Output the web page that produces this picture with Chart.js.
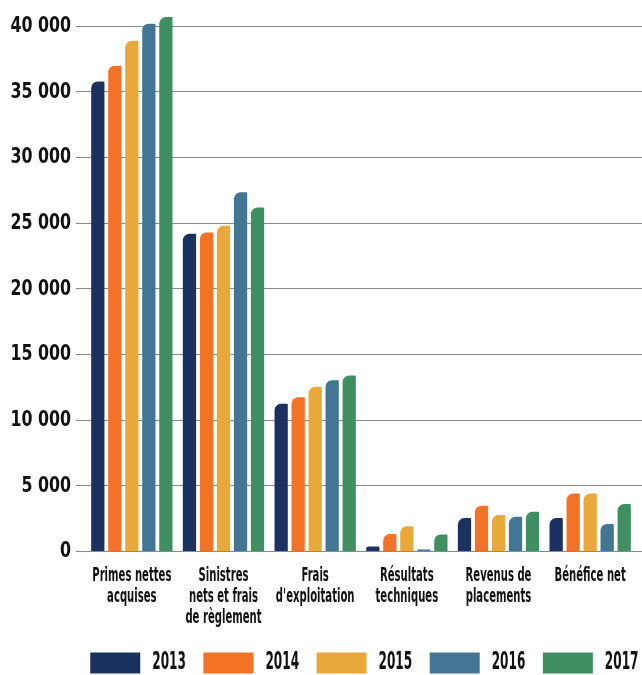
<!DOCTYPE html>
<html>
<head>
<meta charset="utf-8">
<script src="https://cdn.jsdelivr.net/npm/chart.js@4.4.1/dist/chart.umd.min.js"></script>
<style>
  html, body { margin: 0; padding: 0; background: #fff; }
  #wrap { width: 642px; height: 675px; }
</style>
</head>
<body>
<div id="wrap"><canvas id="chart" width="642" height="675"></canvas></div>
<script>
const categories = [
  ['Primes nettes', 'acquises'],
  ['Sinistres', 'nets et frais', 'de règlement'],
  ['Frais', "d'exploitation"],
  ['Résultats', 'techniques'],
  ['Revenus de', 'placements'],
  ['Bénéfice net']
];
const years = ['2013', '2014', '2015', '2016', '2017'];
const values2013 = [35800, 24200, 11250, 380, 2550, 2550];
const values2014 = [37000, 24300, 11750, 1330, 3480, 4420];
const values2015 = [38900, 24800, 12550, 1920, 2780, 4420];
const values2016 = [40200, 27350, 13050, 150, 2650, 2100];
const values2017 = [40700, 26200, 13400, 1300, 3030, 3610];
const yTicks = [0, 5000, 10000, 15000, 20000, 25000, 30000, 35000, 40000];

const colors = ['#1b3160', '#f47225', '#e8a83a', '#437594', '#3f8f62'];
const series = [values2013, values2014, values2015, values2016, values2017];

// the original uses a condensed face; none is installed, so squeeze text horizontally
const condensedFont = "'DejaVu Sans Condensed', sans-serif";
const axisFont = "'DejaVu Sans', sans-serif";
const squeeze = (font) => (font.indexOf('Condensed') >= 0 ? 0.56 : 0.72);

const proto = CanvasRenderingContext2D.prototype;
const origFillText = proto.fillText;
const origMeasureText = proto.measureText;
proto.fillText = function (text, x, y) {
  const k = squeeze(this.font);
  this.save();
  this.translate(x, y);
  this.scale(k, 1);
  origFillText.call(this, text, 0, 0);
  this.restore();
};
proto.measureText = function (text) {
  const m = origMeasureText.call(this, text);
  return {
    width: m.width * squeeze(this.font),
    actualBoundingBoxAscent: m.actualBoundingBoxAscent,
    actualBoundingBoxDescent: m.actualBoundingBoxDescent,
    actualBoundingBoxLeft: m.actualBoundingBoxLeft,
    actualBoundingBoxRight: m.actualBoundingBoxRight
  };
};

// gridlines in the original run to the right edge of the picture
const gridToEdge = {
  id: 'gridToEdge',
  beforeDatasetsDraw(chart) {
    const { ctx, chartArea, scales } = chart;
    ctx.save();
    ctx.strokeStyle = '#8a8a8a';
    ctx.lineWidth = 1;
    yTicks.forEach(v => {
      const y = Math.round(scales.y.getPixelForValue(v) - 0.5) + 0.5;
      ctx.beginPath();
      ctx.moveTo(chartArea.right, y);
      ctx.lineTo(chart.width, y);
      ctx.stroke();
    });
    ctx.restore();
  }
};

const ctx = document.getElementById('chart').getContext('2d');
new Chart(ctx, {
  type: 'bar',
  data: {
    labels: categories,
    datasets: series.map((vals, i) => ({
      label: years[i],
      data: vals,
      backgroundColor: colors[i],
      borderWidth: 0,
      borderRadius: { topLeft: 20, topRight: 1, bottomLeft: 0, bottomRight: 0 },
      borderSkipped: 'bottom',
      categoryPercentage: 0.928,
      barPercentage: 0.78
    }))
  },
  plugins: [gridToEdge],
  options: {
    responsive: false,
    animation: false,
    layout: { padding: { left: 0, right: -14, top: 0, bottom: -10 } },
    scales: {
      x: {
        grid: { display: false, drawTicks: false },
        border: { display: false },
        afterFit: (axis) => { axis.height = 82; },
        ticks: {
          color: '#111',
          font: { family: condensedFont, size: 20, weight: 'bold', lineHeight: 1.05 },
          maxRotation: 0,
          autoSkip: false,
          padding: 14
        }
      },
      y: {
        min: 0,
        max: 42000,
        border: { display: false },
        afterFit: (axis) => {
          axis.width = 86;
          axis.paddingTop = 0;
          axis.paddingBottom = 0;
        },
        afterBuildTicks: (axis) => {
          axis.ticks = yTicks.map(v => ({ value: v }));
        },
        grid: {
          color: '#8a8a8a',
          lineWidth: 1,
          tickLength: 10,
          drawTicks: true
        },
        ticks: {
          color: '#111',
          padding: 5,
          font: { family: axisFont, size: 22, weight: 'bold' },
          callback: (v) => String(v).replace(/\B(?=(\d{3})+(?!\d))/g, ' ')
        }
      },
      // empty spacer so the plot stops short of the right edge like the original
      spacer: {
        position: 'right',
        display: true,
        grid: { display: false, drawTicks: false },
        border: { display: false },
        ticks: { display: false },
        afterFit: (axis) => { axis.width = 20; }
      }
    },
    plugins: {
      legend: {
        position: 'bottom',
        align: 'end',
        labels: {
          boxWidth: 50,
          boxHeight: 21,
          padding: 17.5,
          color: '#111',
          font: { family: condensedFont, size: 24, weight: 'bold' }
        }
      },
      tooltip: { enabled: false }
    }
  }
});
</script>
</body>
</html>
